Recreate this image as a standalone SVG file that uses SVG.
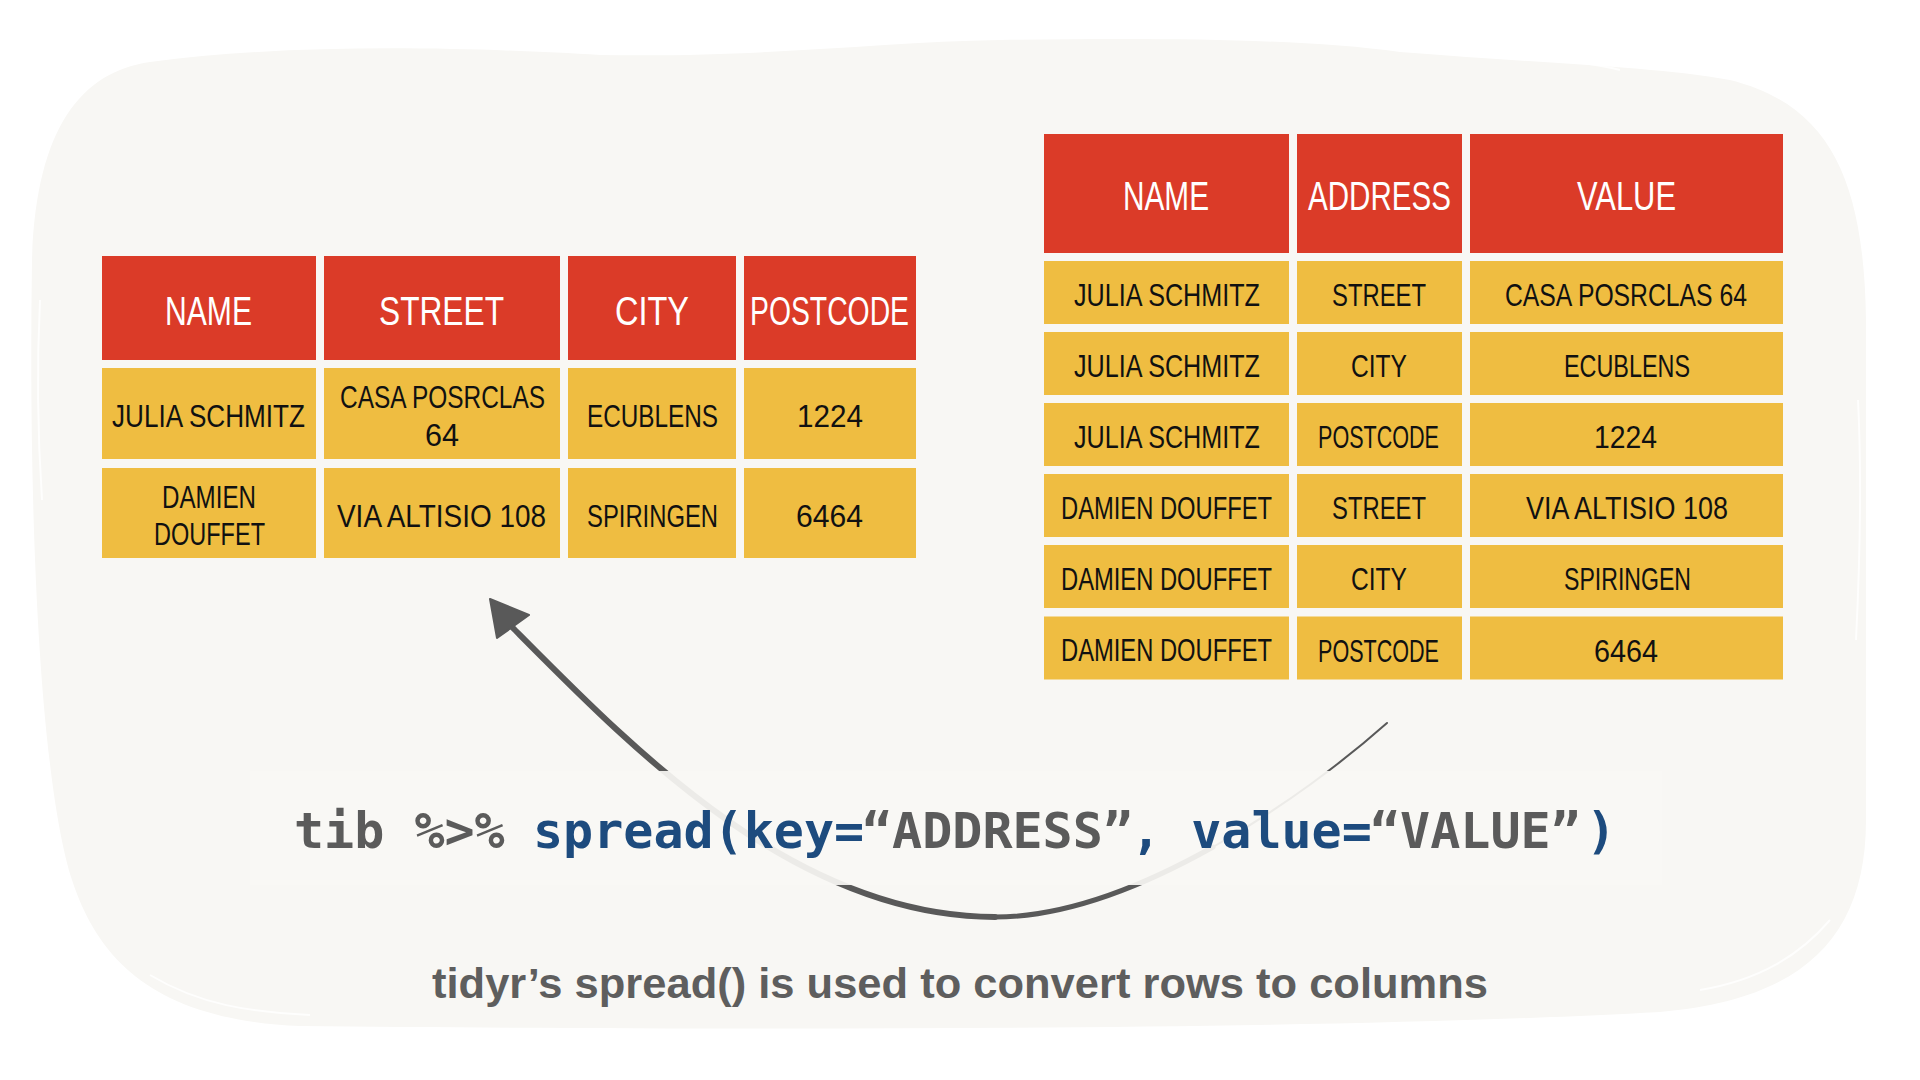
<svg xmlns="http://www.w3.org/2000/svg" width="1920" height="1080" viewBox="0 0 1920 1080">
<style>
.hdr{fill:#DB3B28}
.cell{fill:#EFBD41}
.ht{font-family:"Liberation Sans Narrow","Liberation Sans",sans-serif;font-size:40px;fill:#FFFFFF}
.bt{font-family:"Liberation Sans Narrow","Liberation Sans",sans-serif;font-size:32px;fill:#111111}
.bs{font-family:"Liberation Sans Narrow","Liberation Sans",sans-serif;font-size:27px;fill:#111111}
.code{font-family:"DejaVu Sans Mono","Liberation Mono",monospace;font-weight:bold;font-size:50px}
.g{fill:#5B5B5B}
.b{fill:#1D4B7E}
.cap{font-family:"Liberation Sans",Arial,sans-serif;font-weight:bold;font-size:42px;fill:#5E5E5E}
.arr{fill:none;stroke:#595959;stroke-linecap:round}
</style>
<rect x="0" y="0" width="1920" height="1080" fill="#FFFFFF"/>
<g id="background">
<path d="M150,62 C300,42 480,48 600,55 C760,58 880,42 1000,40 C1150,38 1300,38 1400,52 C1550,64 1650,66 1730,80 C1830,105 1864,180 1866,320 L1866,820 C1866,940 1800,1000 1660,1012 C1300,1032 700,1030 300,1026 C160,1020 100,965 72,880 C40,780 28,520 32,260 C36,130 80,72 150,62 Z" fill="#F8F7F4"/>
<g fill="none" stroke="#FFFFFF" stroke-width="2" opacity="0.8">
<path d="M190,52 C260,44 320,40 360,45"/>
<path d="M1450,52 C1520,56 1580,60 1620,70"/>
<path d="M40,300 C36,380 38,440 42,500"/>
<path d="M1858,400 C1862,480 1860,560 1856,640"/>
<path d="M150,975 C200,1005 250,1012 310,1015"/>
<path d="M1700,990 C1760,980 1800,955 1830,920"/>
</g>
</g>
<g id="table-left">
<g id="lt-h-name"><rect class="hdr" x="102" y="256" width="214" height="104"/><text class="ht" x="165" y="325" textLength="87" lengthAdjust="spacingAndGlyphs">NAME</text></g>
<g id="lt-h-street"><rect class="hdr" x="324" y="256" width="236" height="104"/><text class="ht" x="379" y="325" textLength="125" lengthAdjust="spacingAndGlyphs">STREET</text></g>
<g id="lt-h-city"><rect class="hdr" x="568" y="256" width="168" height="104"/><text class="ht" x="615" y="325" textLength="74" lengthAdjust="spacingAndGlyphs">CITY</text></g>
<g id="lt-h-postcode"><rect class="hdr" x="744" y="256" width="172" height="104"/><text class="ht" x="750" y="325" textLength="159" lengthAdjust="spacingAndGlyphs">POSTCODE</text></g>
<g id="lt-r1-name"><rect class="cell" x="102" y="368" width="214" height="91"/><text class="bt" x="112" y="427" textLength="193" lengthAdjust="spacingAndGlyphs">JULIA SCHMITZ</text></g>
<g id="lt-r1-street"><rect class="cell" x="324" y="368" width="236" height="91"/><text class="bt" x="340" y="408" textLength="205" lengthAdjust="spacingAndGlyphs">CASA POSRCLAS</text><text class="bt" x="425" y="446" textLength="34" lengthAdjust="spacingAndGlyphs">64</text></g>
<g id="lt-r1-city"><rect class="cell" x="568" y="368" width="168" height="91"/><text class="bt" x="587" y="427" textLength="131" lengthAdjust="spacingAndGlyphs">ECUBLENS</text></g>
<g id="lt-r1-postcode"><rect class="cell" x="744" y="368" width="172" height="91"/><text class="bt" x="797" y="427" textLength="66" lengthAdjust="spacingAndGlyphs">1224</text></g>
<g id="lt-r2-name"><rect class="cell" x="102" y="468" width="214" height="90"/><text class="bt" x="162" y="508" textLength="94" lengthAdjust="spacingAndGlyphs">DAMIEN</text><text class="bt" x="154" y="545" textLength="111" lengthAdjust="spacingAndGlyphs">DOUFFET</text></g>
<g id="lt-r2-street"><rect class="cell" x="324" y="468" width="236" height="90"/><text class="bt" x="337" y="527" textLength="209" lengthAdjust="spacingAndGlyphs">VIA ALTISIO 108</text></g>
<g id="lt-r2-city"><rect class="cell" x="568" y="468" width="168" height="90"/><text class="bt" x="587" y="527" textLength="131" lengthAdjust="spacingAndGlyphs">SPIRINGEN</text></g>
<g id="lt-r2-postcode"><rect class="cell" x="744" y="468" width="172" height="90"/><text class="bt" x="796" y="527" textLength="67" lengthAdjust="spacingAndGlyphs">6464</text></g>
</g>
<g id="table-right">
<g id="rt-h-name"><rect class="hdr" x="1044" y="134" width="245" height="119"/><text class="ht" x="1123" y="210" textLength="86" lengthAdjust="spacingAndGlyphs">NAME</text></g>
<g id="rt-h-address"><rect class="hdr" x="1297" y="134" width="165" height="119"/><text class="ht" x="1308" y="210" textLength="143" lengthAdjust="spacingAndGlyphs">ADDRESS</text></g>
<g id="rt-h-value"><rect class="hdr" x="1470" y="134" width="313" height="119"/><text class="ht" x="1577" y="210" textLength="99" lengthAdjust="spacingAndGlyphs">VALUE</text></g>
<g id="rt-r1-name"><rect class="cell" x="1044" y="261" width="245" height="63"/><text class="bt" x="1074" y="306" textLength="186" lengthAdjust="spacingAndGlyphs">JULIA SCHMITZ</text></g>
<g id="rt-r1-address"><rect class="cell" x="1297" y="261" width="165" height="63"/><text class="bt" x="1332" y="306" textLength="94" lengthAdjust="spacingAndGlyphs">STREET</text></g>
<g id="rt-r1-value"><rect class="cell" x="1470" y="261" width="313" height="63"/><text class="bt" x="1505" y="306" textLength="242" lengthAdjust="spacingAndGlyphs">CASA POSRCLAS 64</text></g>
<g id="rt-r2-name"><rect class="cell" x="1044" y="332" width="245" height="63"/><text class="bt" x="1074" y="377" textLength="186" lengthAdjust="spacingAndGlyphs">JULIA SCHMITZ</text></g>
<g id="rt-r2-address"><rect class="cell" x="1297" y="332" width="165" height="63"/><text class="bt" x="1351" y="377" textLength="56" lengthAdjust="spacingAndGlyphs">CITY</text></g>
<g id="rt-r2-value"><rect class="cell" x="1470" y="332" width="313" height="63"/><text class="bt" x="1564" y="377" textLength="126" lengthAdjust="spacingAndGlyphs">ECUBLENS</text></g>
<g id="rt-r3-name"><rect class="cell" x="1044" y="403" width="245" height="63"/><text class="bt" x="1074" y="448" textLength="186" lengthAdjust="spacingAndGlyphs">JULIA SCHMITZ</text></g>
<g id="rt-r3-address"><rect class="cell" x="1297" y="403" width="165" height="63"/><text class="bt" x="1318" y="448" textLength="121" lengthAdjust="spacingAndGlyphs">POSTCODE</text></g>
<g id="rt-r3-value"><rect class="cell" x="1470" y="403" width="313" height="63"/><text class="bt" x="1594" y="448" textLength="63" lengthAdjust="spacingAndGlyphs">1224</text></g>
<g id="rt-r4-name"><rect class="cell" x="1044" y="474" width="245" height="63"/><text class="bs" x="1061" y="519" transform="matrix(1 0 0 1.19 0 -98.61)" textLength="211" lengthAdjust="spacingAndGlyphs">DAMIEN DOUFFET</text></g>
<g id="rt-r4-address"><rect class="cell" x="1297" y="474" width="165" height="63"/><text class="bt" x="1332" y="519" textLength="94" lengthAdjust="spacingAndGlyphs">STREET</text></g>
<g id="rt-r4-value"><rect class="cell" x="1470" y="474" width="313" height="63"/><text class="bt" x="1526" y="519" textLength="202" lengthAdjust="spacingAndGlyphs">VIA ALTISIO 108</text></g>
<g id="rt-r5-name"><rect class="cell" x="1044" y="545" width="245" height="63"/><text class="bs" x="1061" y="590" transform="matrix(1 0 0 1.19 0 -112.1)" textLength="211" lengthAdjust="spacingAndGlyphs">DAMIEN DOUFFET</text></g>
<g id="rt-r5-address"><rect class="cell" x="1297" y="545" width="165" height="63"/><text class="bt" x="1351" y="590" textLength="56" lengthAdjust="spacingAndGlyphs">CITY</text></g>
<g id="rt-r5-value"><rect class="cell" x="1470" y="545" width="313" height="63"/><text class="bt" x="1564" y="590" textLength="127" lengthAdjust="spacingAndGlyphs">SPIRINGEN</text></g>
<g id="rt-r6-name"><rect class="cell" x="1044" y="616.5" width="245" height="63"/><text class="bs" x="1061" y="661.5" transform="matrix(1 0 0 1.19 0 -125.685)" textLength="211" lengthAdjust="spacingAndGlyphs">DAMIEN DOUFFET</text></g>
<g id="rt-r6-address"><rect class="cell" x="1297" y="616.5" width="165" height="63"/><text class="bt" x="1318" y="661.5" textLength="121" lengthAdjust="spacingAndGlyphs">POSTCODE</text></g>
<g id="rt-r6-value"><rect class="cell" x="1470" y="616.5" width="313" height="63"/><text class="bt" x="1594" y="661.5" textLength="64" lengthAdjust="spacingAndGlyphs">6464</text></g>
</g>
<g id="connectors">
<path class="arr" stroke-width="2" d="M1387,723 C1346.5,759 1283.5,807.5 1213,847"/>
<path class="arr" stroke-width="5" d="M1213,847 C1142.75,886.5 1065,917 995,917"/>
<path class="arr" stroke-width="6" d="M995,917 C795,917 633,749 512,627"/>
<polygon points="490,599 529,615 497,638" fill="#595959" stroke="#595959" stroke-width="2" stroke-linejoin="round"/>
</g>
<rect id="code-band" x="250" y="771" width="1412" height="114" fill="#F8F7F4" fill-opacity="0.92"/>
<g id="code">
<text class="code" y="848"><tspan class="g" x="294">tib %&gt;% </tspan><tspan class="b" x="533">spread(key=</tspan><tspan class="g" x="862">“ADDRESS”</tspan><tspan class="b" x="1131">, value=</tspan><tspan class="g" x="1370">“VALUE”</tspan><tspan class="b" x="1586">)</tspan></text>
</g>
<g id="caption">
<text class="cap" x="432" y="998" textLength="1056" lengthAdjust="spacingAndGlyphs">tidyr’s spread() is used to convert rows to columns</text>
</g>
</svg>
